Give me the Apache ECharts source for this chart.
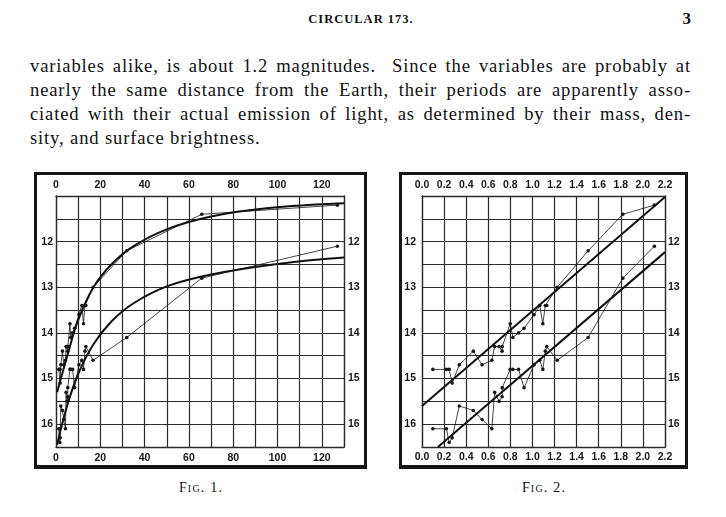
<!DOCTYPE html>
<html>
<head>
<meta charset="utf-8">
<script src="https://cdn.jsdelivr.net/npm/echarts@6/dist/echarts.min.js"></script>
<style>
  html, body { margin:0; padding:0; background:#fff; }
  body { width:726px; height:517px; position:relative; overflow:hidden; }
  .serif { font-family: "Liberation Serif", "Times New Roman", serif; color:#111; position:absolute; white-space:nowrap; }
  .line { position:absolute; left:30px; width:661px; font-family:"Liberation Serif","Times New Roman",serif; font-size:18.6px; letter-spacing:0.85px; line-height:24px; color:#111; text-align:justify; text-align-last:justify; white-space:normal; }
  .last { text-align-last:left; }
  .frame { position:absolute; box-sizing:border-box; border:3px solid #151515; border-bottom-width:4px; }
  #chart { position:absolute; left:0; top:0; width:726px; height:517px; }
</style>
</head>
<body>
<div class="serif" style="left:261px; width:200px; text-align:center; top:12px; font-size:12.5px; line-height:14px; font-weight:bold; letter-spacing:1px;">CIRCULAR 173.</div>
<div class="serif" style="left:641px; width:50px; text-align:right; top:10px; font-size:17px; line-height:17px; font-weight:bold;">3</div>

<div class="line" style="top:54px;">variables alike, is about 1.2 magnitudes.&nbsp; Since the variables are probably at</div>
<div class="line" style="top:78px;">nearly the same distance from the Earth, their periods are apparently asso-</div>
<div class="line" style="top:102px;">ciated with their actual emission of light, as determined by their mass, den-</div>
<div class="line last" style="top:126px;">sity, and surface brightness.</div>

<div class="frame" style="left:34px; top:172px; width:333px; height:297px;"></div>
<div class="frame" style="left:399px; top:172px; width:289px; height:297px;"></div>

<div class="serif" style="left:101px; width:200px; text-align:center; top:481px; font-size:14px; line-height:14px; font-variant:small-caps; letter-spacing:1.2px;">Fig. 1.</div>
<div class="serif" style="left:444px; width:200px; text-align:center; top:481px; font-size:14px; line-height:14px; font-variant:small-caps; letter-spacing:1.2px;">Fig. 2.</div>

<div id="chart"></div>
<script>
// Periods (days) of the 25 variables, with magnitudes at maximum and minimum
var periods = [1.25336, 1.6637, 1.7620, 1.87502, 2.17352, 2.913, 3.501, 4.2897, 4.547, 4.9866, 5.311, 5.323, 6.2926, 6.650, 7.483, 8.397, 10.336, 11.645, 12.417, 13.08, 13.47, 16.75, 31.94, 65.8, 127.0];
var magMax = [14.8, 14.8, 14.8, 15.1, 14.7, 14.4, 14.7, 14.6, 14.3, 14.3, 14.4, 14.3, 13.8, 14.1, 14.0, 13.9, 13.6, 13.4, 13.8, 13.4, 13.4, 13.0, 12.2, 11.4, 11.2];
var magMin = [16.1, 16.1, 16.4, 16.3, 15.6, 15.7, 15.9, 16.1, 15.3, 15.5, 15.4, 15.2, 14.8, 14.8, 14.8, 15.2, 14.7, 14.6, 14.8, 14.4, 14.3, 14.6, 14.1, 12.8, 12.1];

// Hand-drawn smooth curves of Fig. 1: [period, magnitude]
var curveMaxFig1 = [[0.5,15.3],[5.4,14.45],[10,13.72],[16.9,13.0],[25,12.5],[35,12.1],[50,11.73],[70,11.45],[95,11.27],[130,11.16]];
var curveMinFig1 = [[0.5,16.45],[5,15.6],[10,14.9],[16.9,14.25],[25,13.75],[35,13.35],[50,12.98],[70,12.72],[100,12.49],[130,12.35]];

// Straight lines of Fig. 2: [log period, magnitude]
var lineMaxFig2 = [[0, 15.6], [2.2, 11.02]];
var lineMinFig2 = [[0.144, 16.5], [2.2, 12.23]];

// Tick label sets
var fig1XLabels = [0, 20, 40, 60, 80, 100, 120];
var fig2XLabels = [0.0, 0.2, 0.4, 0.6, 0.8, 1.0, 1.2, 1.4, 1.6, 1.8, 2.0, 2.2];
var magLabels = [12, 13, 14, 15, 16];

var fig1Max = periods.map(function (p, i) { return [p, magMax[i]]; });
var fig1Min = periods.map(function (p, i) { return [p, magMin[i]]; });
var fig2Max = periods.map(function (p, i) { return [Math.log10(p), magMax[i]]; });
var fig2Min = periods.map(function (p, i) { return [Math.log10(p), magMin[i]]; });

var INK = '#161616';
var GRID = '#2b2b2b';
var labelFont = { fontFamily: '"Liberation Sans Narrow", "Liberation Sans", Arial, sans-serif', fontWeight: 'bold', fontSize: 10.5, color: INK };

function near(v, list) {
  for (var i = 0; i < list.length; i++) if (Math.abs(v - list[i]) < 1e-6) return true;
  return false;
}
function xAxis(grid, pos, min, max, interval, labels, margin, split, fmt) {
  return {
    type: 'value', gridIndex: grid, position: pos, min: min, max: max, interval: interval,
    axisLine: { show: true, onZero: false, lineStyle: { color: GRID, width: 1.3 } },
    axisTick: { show: false },
    splitLine: { show: split, lineStyle: { color: GRID, width: 1.2 } },
    axisLabel: Object.assign({ margin: margin, showMinLabel: true, showMaxLabel: true,
      formatter: function (v) { return near(v, labels) ? fmt(v) : ''; } }, labelFont)
  };
}
function yAxis(grid, pos, margin, split) {
  return {
    type: 'value', gridIndex: grid, position: pos, inverse: true, min: 11, max: 16.5, interval: 0.5,
    axisLine: { show: true, onZero: false, lineStyle: { color: GRID, width: 1.3 } },
    axisTick: { show: false },
    splitLine: { show: split, lineStyle: { color: GRID, width: 1.2 } },
    axisLabel: Object.assign({ margin: margin,
      formatter: function (v) { return near(v, magLabels) ? String(Math.round(v)) : ''; } }, labelFont)
  };
}
var intFmt = function (v) { return String(Math.round(v)); };
var decFmt = function (v) { return v.toFixed(1); };

function thin(x, y, data) {
  return { type: 'line', xAxisIndex: x, yAxisIndex: y, data: data, symbol: 'circle', symbolSize: 3.6,
    lineStyle: { color: INK, width: 0.8 }, itemStyle: { color: INK }, z: 3, silent: true };
}
function thick(x, y, data, smooth) {
  return { type: 'line', xAxisIndex: x, yAxisIndex: y, data: data, symbol: 'none', smooth: smooth,
    lineStyle: { color: '#101010', width: 2 }, z: 4, silent: true };
}

var chart = echarts.init(document.getElementById('chart'), null, { renderer: 'canvas' });
chart.setOption({
  animation: false,
  backgroundColor: 'transparent',
  grid: [
    { left: 56, top: 196, width: 288, height: 251 },
    { left: 422, top: 196, width: 243, height: 251 }
  ],
  xAxis: [
    xAxis(0, 'bottom', 0, 130, 10, fig1XLabels, 6, true, intFmt),
    xAxis(0, 'top', 0, 130, 10, fig1XLabels, 5, false, intFmt),
    xAxis(1, 'bottom', 0, 2.2, 0.2, fig2XLabels, 5, true, decFmt),
    xAxis(1, 'top', 0, 2.2, 0.2, fig2XLabels, 5, false, decFmt)
  ],
  yAxis: [
    yAxis(0, 'left', 3, true),
    yAxis(0, 'right', 4, false),
    yAxis(1, 'left', 6, true),
    yAxis(1, 'right', 3, false)
  ],
  series: [
    thin(0, 0, fig1Max),
    thin(0, 0, fig1Min),
    thick(0, 0, curveMaxFig1, 0.4),
    thick(0, 0, curveMinFig1, 0.4),
    thin(2, 2, fig2Max),
    thin(2, 2, fig2Min),
    thick(2, 2, lineMaxFig2, false),
    thick(2, 2, lineMinFig2, false)
  ]
});
</script>
</body>
</html>
